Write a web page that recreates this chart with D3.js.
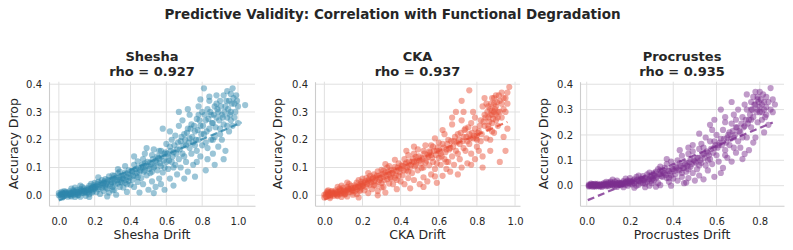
<!DOCTYPE html>
<html><head><meta charset="utf-8">
<script src="https://cdn.jsdelivr.net/npm/d3@7"></script>
<style>body{margin:0;background:#fff;} svg{display:block;} text{font-family:"DejaVu Sans",sans-serif;fill:#262626;}</style>
</head><body><svg id="c" width="793" height="250"></svg>
<script>
const mainTitle = "Predictive Validity: Correlation with Functional Degradation";
const panelNames = ["Shesha", "CKA", "Procrustes"];
const rhoValues = [0.927, 0.937, 0.935];
const xLabels = ["Shesha Drift", "CKA Drift", "Procrustes Drift"];
const yLabel = "Accuracy Drop";
const xTicks = [[0,0.2,0.4,0.6,0.8,1.0],[0,0.2,0.4,0.6,0.8,1.0],[0,0.2,0.4,0.6,0.8]];
const yTicks = [0,0.1,0.2,0.3,0.4];
const colors = ["#2E86AB", "#E94F37", "#7B2D8E"];

const sheshaPoints = [
[0.00,0.000],[0.01,0.004],[0.01,-0.006],[0.02,0.002],[0.02,0.009],[0.03,-0.003],[0.03,0.006],[0.04,0.001],[0.04,0.012],[0.00,0.008],[0.05,-0.005],[0.05,0.007],[0.02,-0.008],[0.03,0.015],
[0.06,0.003],[0.06,0.014],[0.07,-0.004],[0.07,0.009],[0.08,0.018],[0.08,0.002],[0.09,0.011],[0.09,-0.006],[0.10,0.006],[0.10,0.020],[0.07,0.024],[0.09,0.028],
[0.11,0.012],[0.11,0.001],[0.12,0.022],[0.12,-0.005],[0.13,0.015],[0.13,0.030],[0.14,0.008],[0.14,0.025],[0.15,0.018],[0.15,-0.002],[0.12,0.035],
[0.16,0.026],[0.16,0.010],[0.17,0.034],[0.17,0.004],[0.18,0.020],[0.18,0.041],[0.19,0.014],[0.19,0.030],[0.20,0.024],[0.20,0.045],[0.17,-0.006],
[0.21,0.033],[0.21,0.012],[0.22,0.048],[0.22,0.022],[0.23,0.038],[0.23,0.005],[0.24,0.055],[0.24,0.027],[0.25,0.043],[0.25,0.015],[0.22,0.065],
[0.26,0.036],[0.26,0.058],[0.27,0.024],[0.27,0.047],[0.28,0.068],[0.28,0.010],[0.29,0.040],[0.29,0.055],[0.30,0.030],[0.30,0.072],[0.27,-0.004],
[0.31,0.050],[0.31,0.020],[0.32,0.064],[0.32,0.002],[0.33,0.042],[0.33,0.080],[0.34,0.056],[0.34,0.030],[0.35,0.070],[0.35,0.046],[0.33,0.094],
[0.36,0.060],[0.36,0.028],[0.37,0.082],[0.37,0.045],[0.38,0.066],[0.38,0.012],[0.39,0.090],[0.39,0.052],[0.40,0.075],[0.40,0.038],[0.37,0.105],
[0.41,0.085],[0.41,0.056],[0.42,0.110],[0.42,0.030],[0.43,0.070],[0.43,0.095],[0.44,0.048],[0.44,0.122],[0.45,0.082],[0.45,0.010],[0.42,0.140],
[0.46,0.100],[0.46,0.062],[0.47,0.130],[0.47,0.040],[0.48,0.090],[0.48,0.115],[0.49,0.072],[0.49,0.170],[0.50,0.105],[0.50,0.020],[0.48,0.150],
[0.51,0.118],[0.51,0.080],[0.52,0.145],[0.52,0.050],[0.53,0.100],[0.53,0.165],[0.54,0.125],[0.54,0.030],[0.55,0.090],[0.55,0.140],[0.53,0.008],
[0.56,0.132],[0.56,0.060],[0.57,0.160],[0.57,0.105],[0.58,0.240],[0.58,0.082],[0.59,0.150],[0.59,0.020],[0.60,0.120],[0.60,0.185],[0.57,0.040],
[0.61,0.140],[0.61,0.095],[0.62,0.175],[0.62,0.060],[0.63,0.200],[0.63,0.120],[0.64,0.155],[0.64,0.035],[0.65,0.215],[0.65,0.110],[0.62,0.230],
[0.66,0.165],[0.66,0.075],[0.67,0.250],[0.67,0.130],[0.68,0.195],[0.68,0.100],[0.69,0.270],[0.69,0.150],[0.70,0.220],[0.70,0.060],[0.67,0.300],
[0.71,0.180],[0.71,0.120],[0.72,0.240],[0.72,0.085],[0.73,0.205],[0.73,0.290],[0.74,0.150],[0.74,0.255],[0.75,0.190],[0.75,0.110],[0.72,0.310],
[0.76,0.230],[0.76,0.067],[0.77,0.275],[0.77,0.160],[0.78,0.200],[0.78,0.320],[0.79,0.140],[0.79,0.250],[0.80,0.300],[0.80,0.180],[0.77,0.120],[0.79,0.345],
[0.81,0.385],[0.81,0.220],[0.82,0.090],[0.82,0.270],[0.83,0.310],[0.83,0.170],[0.84,0.240],[0.84,0.340],[0.85,0.200],[0.85,0.290],[0.83,0.130],[0.84,0.355],
[0.86,0.260],[0.86,0.150],[0.87,0.320],[0.87,0.210],[0.88,0.280],[0.88,0.360],[0.89,0.175],[0.89,0.300],[0.90,0.240],[0.90,0.340],[0.87,0.110],[0.88,0.330],
[0.91,0.290],[0.91,0.200],[0.92,0.360],[0.92,0.255],[0.93,0.320],[0.93,0.160],[0.94,0.280],[0.94,0.375],[0.95,0.230],[0.95,0.340],[0.92,0.130],
[0.96,0.300],[0.96,0.365],[0.97,0.250],[0.97,0.385],[0.98,0.330],[0.98,0.280],[0.99,0.360],[1.00,0.260],[1.00,0.320],[1.04,0.325]
];
const sheshaBand = [
[0.01,0.001],[0.02,0.005],[0.03,0.003],[0.04,0.007],[0.05,0.002],[0.06,0.008],[0.07,0.005],[0.08,0.010],[0.09,0.004],[0.10,0.013],[0.11,0.008],[0.12,0.014],[0.13,0.009],[0.14,0.017],[0.15,0.011],[0.16,0.019],[0.17,0.015],[0.18,0.026],[0.19,0.022],[0.20,0.030],[0.035,0.010],[0.065,-0.001],[0.085,0.014],[0.105,0.000],[0.125,0.018],[0.145,0.012],[0.165,0.022],[0.185,0.010],[0.195,0.036],[0.015,0.012],
[0.205,0.028],[0.215,0.040],[0.225,0.030],[0.235,0.045],[0.245,0.036],[0.255,0.050],[0.265,0.042],[0.275,0.055],[0.285,0.034],[0.295,0.048],[0.305,0.060],[0.315,0.040],[0.325,0.055],[0.335,0.065],[0.345,0.048],[0.355,0.062],[0.365,0.072],[0.375,0.055],[0.385,0.078],[0.395,0.064],[0.26,0.028],[0.31,0.070],[0.34,0.085],[0.38,0.040],[0.30,0.018],
[0.405,0.088],[0.415,0.070],[0.425,0.092],[0.435,0.080],[0.445,0.100],[0.455,0.090],[0.465,0.110],[0.475,0.085],[0.485,0.105],[0.495,0.120],[0.505,0.095],[0.515,0.112],[0.525,0.130],[0.535,0.105],[0.545,0.118],[0.555,0.135],[0.565,0.115],[0.575,0.140],[0.585,0.125],[0.595,0.155],[0.44,0.065],[0.47,0.100],[0.52,0.085],[0.56,0.160],[0.59,0.100],
[0.605,0.150],[0.615,0.125],[0.625,0.160],[0.635,0.140],[0.645,0.180],[0.655,0.150],[0.665,0.190],[0.675,0.165],[0.685,0.210],[0.695,0.180],[0.705,0.200],[0.715,0.225],[0.725,0.190],[0.735,0.240],[0.745,0.210],[0.755,0.250],[0.765,0.200],[0.775,0.235],[0.785,0.270],[0.795,0.220],[0.64,0.100],[0.70,0.140],[0.73,0.170],[0.76,0.180],[0.78,0.290],
[0.805,0.250],[0.815,0.290],[0.825,0.230],[0.835,0.275],[0.845,0.300],[0.855,0.260],[0.865,0.290],[0.875,0.245],[0.885,0.310],[0.895,0.270],[0.905,0.320],[0.915,0.280],[0.925,0.300],[0.935,0.340],[0.945,0.310],[0.955,0.290],[0.965,0.330],[0.975,0.350],[0.985,0.300],[0.995,0.340],[0.86,0.200],[0.90,0.220],[0.94,0.250],[0.82,0.190],[0.96,0.270]
];

const ckaPoints = [
[0.00,0.002],[0.01,-0.005],[0.01,0.007],[0.02,0.001],[0.02,0.011],[0.03,-0.004],[0.03,0.008],[0.04,0.003],[0.04,0.015],[0.00,-0.008],[0.05,0.010],[0.05,-0.002],[0.02,0.018],[0.03,-0.010],
[0.06,0.006],[0.06,0.018],[0.07,-0.003],[0.07,0.012],[0.08,0.024],[0.08,0.004],[0.09,0.016],[0.09,-0.006],[0.10,0.010],[0.10,0.028],[0.07,0.030],[0.09,0.035],
[0.11,0.016],[0.11,0.004],[0.12,0.030],[0.12,-0.004],[0.13,0.022],[0.13,0.040],[0.14,0.012],[0.14,0.034],[0.15,0.026],[0.15,0.002],[0.12,0.046],
[0.16,0.036],[0.16,0.014],[0.17,0.046],[0.17,0.004],[0.18,0.028],[0.18,0.055],[0.19,0.020],[0.19,0.040],[0.20,0.033],[0.20,0.060],[0.18,-0.008],
[0.21,0.045],[0.21,0.018],[0.22,0.062],[0.22,0.030],[0.23,0.052],[0.23,0.008],[0.24,0.070],[0.24,0.038],[0.25,0.058],[0.25,0.022],[0.23,0.080],
[0.26,0.050],[0.26,0.075],[0.27,0.035],[0.27,0.064],[0.28,0.086],[0.28,0.015],[0.29,0.055],[0.29,0.072],[0.30,0.044],[0.30,0.092],[0.28,0.000],
[0.31,0.066],[0.31,0.030],[0.32,0.082],[0.32,0.010],[0.33,0.058],[0.33,0.100],[0.34,0.074],[0.34,0.042],[0.35,0.090],[0.35,0.060],[0.32,0.112],
[0.36,0.080],[0.36,0.040],[0.37,0.102],[0.37,0.062],[0.38,0.088],[0.38,0.022],[0.39,0.115],[0.39,0.070],[0.40,0.096],[0.40,0.050],[0.37,0.128],
[0.41,0.105],[0.41,0.072],[0.42,0.130],[0.42,0.040],[0.43,0.090],[0.43,0.118],[0.44,0.062],[0.44,0.145],[0.45,0.100],[0.45,0.025],[0.43,0.160],
[0.46,0.120],[0.46,0.080],[0.47,0.150],[0.47,0.055],[0.48,0.110],[0.48,0.138],[0.49,0.090],[0.49,0.165],[0.50,0.125],[0.50,0.040],[0.47,0.175],
[0.51,0.135],[0.51,0.098],[0.52,0.160],[0.52,0.065],[0.53,0.118],[0.53,0.180],[0.54,0.145],[0.54,0.050],[0.55,0.108],[0.55,0.158],[0.52,0.030],
[0.56,0.145],[0.56,0.075],[0.57,0.175],[0.57,0.120],[0.58,0.205],[0.58,0.095],[0.59,0.160],[0.59,0.045],[0.60,0.135],[0.60,0.190],[0.58,0.068],
[0.61,0.150],[0.61,0.110],[0.62,0.185],[0.62,0.070],[0.63,0.220],[0.63,0.130],[0.64,0.165],[0.64,0.095],[0.65,0.200],[0.65,0.120],[0.62,0.235],
[0.66,0.170],[0.66,0.085],[0.67,0.255],[0.67,0.140],[0.68,0.195],[0.68,0.110],[0.69,0.300],[0.69,0.160],[0.70,0.220],[0.70,0.075],[0.67,0.280],
[0.71,0.185],[0.71,0.130],[0.72,0.340],[0.72,0.100],[0.73,0.210],[0.73,0.300],[0.74,0.160],[0.74,0.240],[0.75,0.195],[0.75,0.115],[0.72,0.270],
[0.76,0.378],[0.76,0.220],[0.77,0.260],[0.77,0.150],[0.78,0.205],[0.78,0.300],[0.79,0.130],[0.79,0.240],[0.80,0.215],[0.80,0.175],[0.77,0.110],[0.79,0.280],
[0.81,0.230],[0.81,0.160],[0.82,0.270],[0.82,0.195],[0.83,0.320],[0.83,0.140],[0.84,0.250],[0.84,0.290],[0.85,0.205],[0.85,0.330],[0.83,0.100],[0.84,0.350],
[0.86,0.280],[0.86,0.240],[0.87,0.310],[0.87,0.160],[0.88,0.350],[0.88,0.260],[0.89,0.300],[0.89,0.330],[0.90,0.270],[0.90,0.360],[0.87,0.200],[0.88,0.290],[0.89,0.225],[0.90,0.320],
[0.91,0.300],[0.91,0.250],[0.92,0.340],[0.92,0.120],[0.93,0.280],[0.93,0.370],[0.94,0.310],[0.94,0.210],[0.95,0.160],[0.95,0.350],[0.96,0.330],[0.97,0.390],[0.96,0.240]
];
const ckaBand = [
[0.01,0.002],[0.02,0.006],[0.03,0.002],[0.04,0.009],[0.05,0.004],[0.06,0.011],[0.07,0.006],[0.08,0.014],[0.09,0.008],[0.10,0.017],[0.11,0.010],[0.12,0.019],[0.13,0.013],[0.14,0.024],[0.15,0.017],[0.16,0.027],[0.17,0.021],[0.18,0.034],[0.19,0.028],[0.20,0.040],[0.035,0.013],[0.065,0.000],[0.085,0.020],[0.105,0.003],[0.125,0.024],[0.145,0.018],[0.165,0.030],[0.185,0.015],[0.195,0.048],[0.015,0.014],
[0.205,0.036],[0.215,0.050],[0.225,0.040],[0.235,0.058],[0.245,0.046],[0.255,0.064],[0.265,0.054],[0.275,0.070],[0.285,0.048],[0.295,0.062],[0.305,0.076],[0.315,0.054],[0.325,0.070],[0.335,0.084],[0.345,0.064],[0.355,0.080],[0.365,0.092],[0.375,0.072],[0.385,0.100],[0.395,0.084],[0.26,0.036],[0.31,0.088],[0.34,0.105],[0.38,0.055],[0.30,0.028],
[0.405,0.108],[0.415,0.090],[0.425,0.112],[0.435,0.100],[0.445,0.122],[0.455,0.110],[0.465,0.132],[0.475,0.105],[0.485,0.125],[0.495,0.140],[0.505,0.115],[0.515,0.130],[0.525,0.150],[0.535,0.125],[0.545,0.138],[0.555,0.155],[0.565,0.135],[0.575,0.160],[0.585,0.145],[0.595,0.172],[0.44,0.085],[0.47,0.120],[0.52,0.100],[0.56,0.180],[0.59,0.115],
[0.605,0.160],[0.615,0.140],[0.625,0.172],[0.635,0.155],[0.645,0.185],[0.655,0.165],[0.665,0.195],[0.675,0.175],[0.685,0.210],[0.695,0.190],[0.705,0.200],[0.715,0.225],[0.725,0.195],[0.735,0.235],[0.745,0.210],[0.755,0.245],[0.765,0.205],[0.775,0.225],[0.785,0.215],[0.795,0.205],[0.64,0.120],[0.70,0.150],[0.73,0.170],[0.76,0.185],[0.80,0.200],
[0.805,0.225],[0.815,0.250],[0.825,0.220],[0.835,0.265],[0.845,0.280],[0.855,0.300],[0.86,0.320],[0.865,0.265],[0.87,0.290],[0.875,0.330],[0.88,0.305],[0.885,0.275],[0.89,0.350],[0.895,0.310],[0.90,0.290],[0.905,0.335],[0.91,0.280],[0.915,0.360],[0.92,0.300],[0.93,0.330],[0.94,0.350],[0.95,0.300],[0.96,0.370],[0.86,0.250],[0.88,0.230]
];

const procrustesPoints = [
[0.01,0.000],[0.01,0.004],[0.01,-0.003],[0.02,0.002],[0.02,-0.002],[0.02,0.005],[0.03,0.001],[0.03,-0.004],[0.03,0.006],[0.04,0.000],[0.04,0.004],[0.04,-0.003],[0.05,0.002],[0.05,0.007],[0.05,-0.002],[0.02,0.008],
[0.06,0.003],[0.06,-0.003],[0.07,0.006],[0.07,0.000],[0.08,0.004],[0.08,0.010],[0.09,-0.002],[0.09,0.007],[0.10,0.002],[0.10,0.012],[0.07,-0.005],[0.09,0.015],
[0.11,0.005],[0.11,0.012],[0.12,0.000],[0.12,0.009],[0.13,0.016],[0.13,-0.003],[0.14,0.008],[0.14,0.020],[0.15,0.004],[0.15,0.012],[0.12,0.024],[0.14,-0.005],
[0.16,0.010],[0.16,0.002],[0.17,0.018],[0.17,0.006],[0.18,0.014],[0.18,0.028],[0.19,0.000],[0.19,0.020],[0.20,0.008],[0.20,0.030],[0.17,-0.006],[0.19,0.012],
[0.21,0.016],[0.21,0.005],[0.22,0.025],[0.22,0.010],[0.23,0.035],[0.23,0.000],[0.24,0.020],[0.24,0.040],[0.25,0.012],[0.25,0.028],[0.22,-0.008],[0.24,0.004],
[0.26,0.022],[0.26,0.038],[0.27,0.008],[0.27,0.030],[0.28,0.045],[0.28,0.015],[0.29,0.026],[0.29,0.052],[0.30,0.035],[0.30,0.010],[0.27,-0.006],[0.29,0.000],
[0.31,0.040],[0.31,0.020],[0.32,0.055],[0.32,0.030],[0.33,0.065],[0.33,0.010],[0.34,0.045],[0.34,0.075],[0.35,0.035],[0.35,0.058],[0.32,-0.004],[0.34,0.002],
[0.36,0.048],[0.36,0.070],[0.37,0.030],[0.37,0.085],[0.38,0.058],[0.38,0.015],[0.39,0.095],[0.39,0.040],[0.40,0.065],[0.40,0.028],[0.37,0.105],[0.39,0.000],
[0.41,0.075],[0.41,0.045],[0.42,0.100],[0.42,0.020],[0.43,0.060],[0.43,0.088],[0.44,0.035],[0.44,0.118],[0.45,0.070],[0.45,0.010],[0.46,0.012],[0.43,0.140],
[0.46,0.090],[0.46,0.055],[0.47,0.125],[0.47,0.030],[0.48,0.075],[0.48,0.105],[0.49,0.050],[0.49,0.160],[0.50,0.095],[0.50,0.020],[0.47,0.150],[0.49,0.135],
[0.51,0.110],[0.51,0.065],[0.52,0.145],[0.52,0.040],[0.53,0.090],[0.53,0.165],[0.54,0.125],[0.54,0.025],[0.55,0.080],[0.55,0.190],[0.52,0.205],[0.54,0.150],
[0.56,0.130],[0.56,0.060],[0.57,0.175],[0.57,0.105],[0.58,0.220],[0.58,0.085],[0.59,0.150],[0.59,0.035],[0.60,0.120],[0.60,0.200],[0.57,0.240],[0.59,0.260],
[0.61,0.160],[0.61,0.095],[0.62,0.300],[0.62,0.185],[0.63,0.220],[0.63,0.070],[0.64,0.140],[0.64,0.250],[0.65,0.190],[0.65,0.110],[0.62,0.050],[0.64,0.270],
[0.66,0.210],[0.66,0.160],[0.67,0.245],[0.67,0.095],[0.68,0.190],[0.68,0.280],[0.69,0.130],[0.69,0.230],[0.70,0.300],[0.70,0.175],[0.67,0.330],[0.69,0.260],
[0.71,0.210],[0.71,0.150],[0.72,0.270],[0.72,0.105],[0.73,0.235],[0.73,0.320],[0.74,0.190],[0.74,0.360],[0.75,0.260],[0.75,0.140],[0.73,0.125],[0.74,0.300],
[0.76,0.300],[0.76,0.230],[0.77,0.350],[0.77,0.270],[0.78,0.320],[0.78,0.190],[0.79,0.340],[0.79,0.250],[0.80,0.290],[0.80,0.370],[0.77,0.170],[0.78,0.370],[0.79,0.300],[0.76,0.330],
[0.81,0.260],[0.81,0.320],[0.82,0.300],[0.82,0.210],[0.83,0.350],[0.83,0.280],[0.84,0.240],[0.85,0.385],[0.86,0.290],[0.87,0.320]
];
const procrustesBand = [
[0.015,0.001],[0.025,0.003],[0.035,0.000],[0.045,0.003],[0.055,0.001],[0.065,0.004],[0.075,0.002],[0.085,0.006],[0.095,0.003],[0.105,0.007],[0.115,0.004],[0.125,0.008],[0.135,0.005],[0.145,0.010],[0.155,0.007],[0.165,0.012],[0.175,0.009],[0.185,0.016],[0.195,0.011],[0.20,0.018],[0.03,0.004],[0.06,0.000],[0.08,0.001],[0.10,-0.002],[0.12,0.004],[0.14,0.002],[0.16,0.006],[0.18,0.004],[0.04,0.007],[0.11,0.016],
[0.205,0.014],[0.215,0.020],[0.225,0.016],[0.235,0.024],[0.245,0.018],[0.255,0.026],[0.265,0.020],[0.275,0.032],[0.285,0.024],[0.295,0.036],[0.305,0.028],[0.315,0.040],[0.325,0.034],[0.335,0.046],[0.345,0.038],[0.355,0.050],[0.365,0.042],[0.375,0.060],[0.385,0.048],[0.395,0.066],[0.26,0.010],[0.31,0.050],[0.34,0.060],[0.38,0.030],[0.30,0.020],
[0.405,0.058],[0.415,0.070],[0.425,0.064],[0.435,0.078],[0.445,0.070],[0.455,0.085],[0.465,0.078],[0.475,0.092],[0.485,0.085],[0.495,0.100],[0.505,0.090],[0.515,0.110],[0.525,0.100],[0.535,0.120],[0.545,0.110],[0.555,0.135],[0.565,0.120],[0.575,0.145],[0.585,0.130],[0.595,0.160],[0.44,0.050],[0.47,0.065],[0.52,0.080],[0.56,0.100],[0.59,0.175],
[0.605,0.150],[0.615,0.170],[0.625,0.160],[0.635,0.185],[0.645,0.170],[0.655,0.200],[0.665,0.185],[0.675,0.215],[0.685,0.200],[0.695,0.230],[0.705,0.215],[0.715,0.245],[0.725,0.230],[0.735,0.260],[0.745,0.245],[0.755,0.280],[0.765,0.300],[0.775,0.320],[0.785,0.290],[0.795,0.330],[0.64,0.120],[0.68,0.150],[0.72,0.190],[0.76,0.260],[0.79,0.350],
[0.80,0.310],[0.805,0.340],[0.81,0.290],[0.815,0.360],[0.82,0.330],[0.825,0.270],[0.83,0.310],[0.84,0.330],[0.85,0.300],[0.86,0.340]
];

// regression line endpoints: [x, y]
const sheshaFit = [[0.00,-0.019],[1.02,0.262]];
const ckaFit = [[0.00,-0.015],[0.96,0.264]];
const procrustesFit = [[0.005,-0.057],[0.86,0.249]];

const allPoints = [sheshaPoints.concat(sheshaBand), ckaPoints.concat(ckaBand), procrustesPoints.concat(procrustesBand)];
const allFits = [sheshaFit, ckaFit, procrustesFit];
const xDomains = [[-0.055,1.095],[-0.049,1.026],[-0.031,0.912]];
const yDomains = [[-0.0375,0.409],[-0.0375,0.409],[-0.079,0.41]];

// layout
const panels = [
  {left:49, right:255},
  {left:315, right:520},
  {left:580, right:784}
];
const plotTop = 81.7, plotBottom = 205.7;

const svg = d3.select("#c");
svg.append("rect").attr("width",793).attr("height",250).attr("fill","#fff");

svg.append("text").attr("x",392.5).attr("y",18.5).attr("text-anchor","middle")
  .style("font-size","13.5px").style("font-weight","bold").text(mainTitle);

panels.forEach((p,i)=>{
  const x = d3.scaleLinear().domain(xDomains[i]).range([p.left,p.right]);
  const y = d3.scaleLinear().domain(yDomains[i]).range([plotBottom,plotTop]);
  const g = svg.append("g");
  g.append("g").selectAll("line").data(xTicks[i]).join("line")
    .attr("x1",d=>x(d)).attr("x2",d=>x(d)).attr("y1",plotTop).attr("y2",plotBottom)
    .attr("stroke","#e0e0e0").attr("stroke-width",1);
  g.append("g").selectAll("line").data(yTicks).join("line")
    .attr("y1",d=>y(d)).attr("y2",d=>y(d)).attr("x1",p.left).attr("x2",p.right)
    .attr("stroke","#e0e0e0").attr("stroke-width",1);
  const xa = g.append("g").attr("transform",`translate(0,${plotBottom})`)
    .call(d3.axisBottom(x).tickValues(xTicks[i]).tickFormat(d3.format(".1f")).tickSize(0).tickPadding(12));
  xa.select(".domain").attr("stroke","#cccccc").attr("stroke-width",1.1);
  xa.selectAll("text").style("font-size","10px").style("font-family","DejaVu Sans").attr("fill","#262626");
  const ya = g.append("g").attr("transform",`translate(${p.left},0)`)
    .call(d3.axisLeft(y).tickValues(yTicks).tickFormat(d3.format(".1f")).tickSize(0).tickPadding(7));
  ya.select(".domain").attr("stroke","#cccccc").attr("stroke-width",1.1);
  ya.selectAll("text").style("font-size","10px").style("font-family","DejaVu Sans").attr("fill","#262626");
  g.append("g").selectAll("circle").data(allPoints[i]).join("circle")
    .attr("cx",d=>x(d[0])).attr("cy",d=>y(d[1])).attr("r",3.1)
    .attr("fill",colors[i]).attr("fill-opacity",0.48);
  g.append("path").datum(allFits[i])
    .attr("d",d3.line().x(d=>x(d[0])).y(d=>y(d[1])))
    .attr("stroke",colors[i]).attr("stroke-width",2.2).attr("stroke-dasharray","7,4")
    .attr("stroke-opacity",0.8).attr("fill","none");
  const cx = (p.left+p.right)/2;
  svg.append("text").attr("x",cx).attr("y",60.7).attr("text-anchor","middle")
    .style("font-size","13px").style("font-weight","bold").text(panelNames[i]);
  svg.append("text").attr("x",cx).attr("y",75.5).attr("text-anchor","middle")
    .style("font-size","13px").style("font-weight","bold").text("rho = " + rhoValues[i].toFixed(3));
  svg.append("text").attr("x",cx).attr("y",239).attr("text-anchor","middle")
    .style("font-size","12.5px").text(xLabels[i]);
  const ylx = [17.5, 282, 548][i];
  svg.append("text").attr("transform",`translate(${ylx},${(plotTop+plotBottom)/2}) rotate(-90)`)
    .attr("text-anchor","middle").style("font-size","12.5px").text(yLabel);
});
</script></body></html>
